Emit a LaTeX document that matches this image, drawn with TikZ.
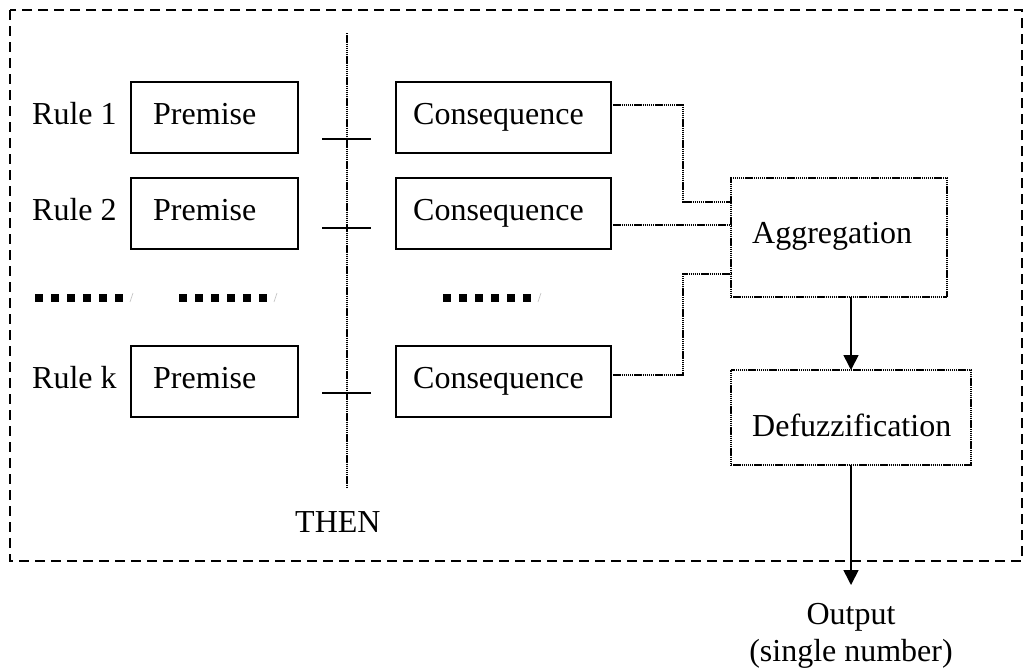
\documentclass[tikz,border=0pt]{standalone}
\usepackage{fontspec}
\setmainfont{Liberation Serif}
\usetikzlibrary{arrows.meta,calc}
\begin{document}
\begin{tikzpicture}[x=1pt,y=-1pt,
  every node/.style={font=\fontsize{32}{37}\selectfont},
  lbl/.style={inner sep=0pt, anchor=base west},
  solidbox/.style={draw, line width=2pt, anchor=north west, inner sep=0pt, outer sep=0pt},
  dotbox/.style={draw, line width=2.2pt, dash pattern=on 1.4pt off 0.7pt, anchor=north west, inner sep=0pt, outer sep=0pt},
  conn/.style={line width=1.8pt, dash pattern=on 1.4pt off 0.7pt},
  arr/.style={line width=1.6pt, -{Triangle[width=15pt,length=15pt]}},
  tick/.style={line width=2pt},
]
\useasboundingbox (0,0) rectangle (1032,670);
% outer dashed frame
\draw[line width=2pt, dash pattern=on 10pt off 6pt] (10,10) rectangle (1022,561);

% rules
\foreach \t/\n/\ty in {82/1/139,178/2/228,346/k/393}{
  \node[lbl] (r\n) at (32,{\t+42}) {Rule \n};
  \node[solidbox, minimum width=167pt, minimum height=71pt] (p\n) at (131,\t) {};
  \node[lbl] (pt\n) at (153,{\t+42}) {Premise};
  \node[solidbox, minimum width=215pt, minimum height=71pt] (c\n) at (396,\t) {};
  \node[lbl] (ct\n) at (413,{\t+42}) {Consequence};
  \draw[tick] (322,\ty) -- (371,\ty);
}

% THEN line
\coordinate (thtop) at (347,33);
\coordinate (thbot) at (347,487);
\draw[line width=2.2pt, dash pattern=on 1.4pt off 0.7pt] (thtop) -- (thbot);
\node[lbl] (then) at (295,532) {THEN};

% ellipsis rows
\foreach \gx in {35,179,443}{
  \foreach \i in {0,...,5}{
    \fill ({\gx+\i*16},294) rectangle ++(8,8);
  }
  \draw[gray!45, line width=0.7pt] ({\gx+95},302) -- ({\gx+98},293);
}

% aggregation and defuzzification
\node[dotbox, minimum width=216pt, minimum height=119pt] (agg) at (731,178) {};
\node[lbl] (aggt) at (752,243) {Aggregation};
\node[dotbox, minimum width=240pt, minimum height=95pt] (def) at (731,370) {};
\node[lbl] (deft) at (752,436) {Defuzzification};

% output
\node[inner sep=0pt, align=center, anchor=north] (out) at (851,603) {Output\\(single number)};
\coordinate (tip) at (851,585);

% connectors
\draw[conn] ($(c1.north east)+(0,23)$) -| ($(agg.north west)+(-48,24)$) -- ($(agg.north west)+(0,24)$);
\draw[conn] ($(c2.north east)+(0,47)$) -- ($(agg.north west)+(0,47)$);
\draw[conn] ($(ck.north east)+(0,29)$) -| ($(agg.north west)+(-48,96)$) -- ($(agg.north west)+(0,96)$);

\draw[arr] (agg.south -| out.north) -- (def.north -| out.north);
\draw[arr] (def.south -| out.north) -- (tip);
\end{tikzpicture}
\end{document}
